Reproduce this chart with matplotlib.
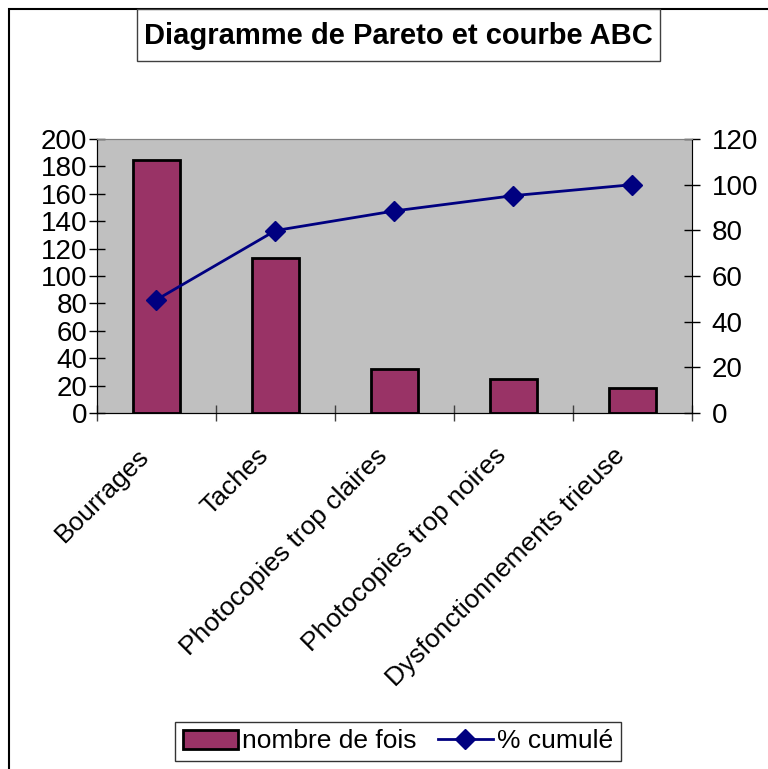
import matplotlib
matplotlib.use("Agg")
import matplotlib.pyplot as plt
import matplotlib.transforms as mtransforms
from matplotlib.patches import Rectangle, Patch
from matplotlib.lines import Line2D

plt.rcParams['font.family'] = ['Liberation Sans', 'DejaVu Sans']

categories = ["Bourrages", "Taches", "Photocopies trop claires",
              "Photocopies trop noires", "Dysfonctionnements trieuse"]
counts = [185, 113, 32, 25, 18]
cumul_pct = [49.6, 79.9, 88.5, 95.2, 100.0]
left_ticks = list(range(0, 201, 20))
right_ticks = list(range(0, 121, 20))

W, H = 768, 769
fig = plt.figure(figsize=(W / 100, H / 100), dpi=100)
fig.patch.set_facecolor('white')

# outer chart frame
fig.patches.append(Rectangle((8.5 / W, -0.1), 1.2, 1 - 8.5 / H + 0.1,
                             transform=fig.transFigure, fill=False,
                             edgecolor='black', lw=1.5))

ax = fig.add_axes([97 / W, 1 - 413 / H, (692 - 97) / W, (413 - 139) / H])
ax.set_facecolor('#C0C0C0')
x = list(range(len(categories)))
ax.bar(x, counts, width=0.4, color='#993366', edgecolor='black', lw=2, zorder=2)
ax.set_xlim(-0.5, len(categories) - 0.5)
ax.set_ylim(0, 200)
ax.set_yticks(left_ticks)
ax.tick_params(axis='y', direction='inout', length=12, width=1, labelsize=20, pad=1)
ax.set_xticks([i - 0.5 for i in range(len(categories) + 1)])
ax.set_xticklabels([])
ax.tick_params(axis='x', direction='inout', length=12, width=1, color='#404040')
ax.set_xticks(x, minor=True)
ax.set_xticklabels(categories, minor=True, rotation=45, ha='right', va='center',
                   rotation_mode='anchor', fontsize=19)
ax.tick_params(axis='x', which='minor', length=0, pad=31)
offset = mtransforms.ScaledTranslation(-11 / 100, 4 / 100, fig.dpi_scale_trans)
for lab in ax.get_xticklabels(minor=True):
    lab.set_transform(lab.get_transform() + offset)
for s in ['left', 'bottom']:
    ax.spines[s].set_color('black')
ax.spines['top'].set_color('#808080')
ax.spines['right'].set_color('#808080')

ax2 = ax.twinx()
ax2.plot(x, cumul_pct, color='#000080', lw=2, marker='D', markersize=10, zorder=3)
ax2.set_ylim(0, 120)
ax2.set_yticks(right_ticks)
ax2.tick_params(axis='y', direction='inout', length=12, width=1, labelsize=20, pad=8)
ax2.spines['right'].set_color('black')
ax2.spines['top'].set_color('#808080')

# title in a box
fig.patches.append(Rectangle((137 / W, 1 - 61 / H), (660 - 137) / W, (61 - 9) / H,
                             transform=fig.transFigure, facecolor='white',
                             edgecolor='#404040', lw=1))
fig.text(398.5 / W, 1 - 36 / H, "Diagramme de Pareto et courbe ABC",
         ha='center', va='center', fontsize=21, fontweight='bold')

handles = [Patch(facecolor='#993366', edgecolor='black', lw=2),
           Line2D([0], [0], color='#000080', lw=2, marker='D', markersize=10)]
leg = fig.legend(handles, ["nombre de fois", "% cumulé"],
                 loc='center', bbox_to_anchor=(398 / W, 1 - 741.5 / H),
                 ncol=2, fontsize=19, frameon=True, fancybox=False,
                 edgecolor='black', handlelength=2.1, handletextpad=0.15,
                 columnspacing=0.8, borderpad=0.3, borderaxespad=0)
leg.get_frame().set_linewidth(1)

fig.savefig("out.png", dpi=100)
